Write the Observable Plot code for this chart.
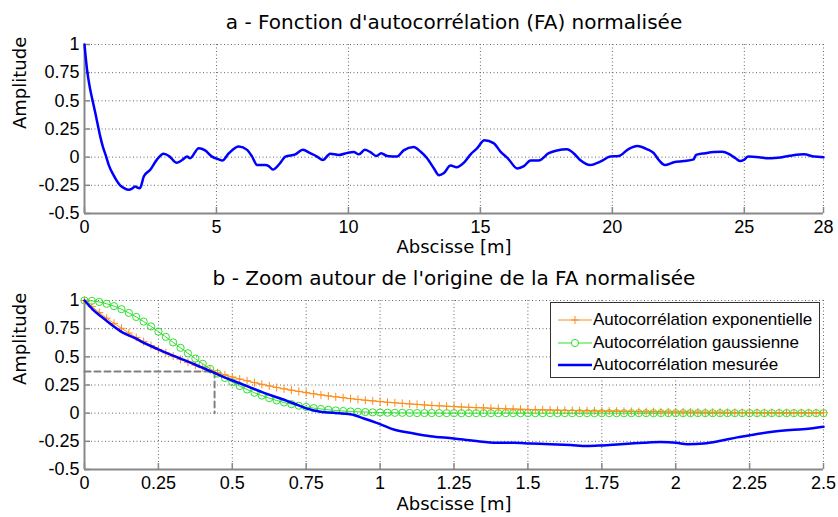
<!DOCTYPE html>
<html>
<head>
<meta charset="utf-8">
<script src="https://cdn.jsdelivr.net/npm/d3@7"></script>
<script src="https://cdn.jsdelivr.net/npm/@observablehq/plot@0.6"></script>
<style>
  body { margin: 0; background: #fff; }
  #wrap { position: relative; width: 838px; height: 517px; background: #fff; }
  #wrap svg { display: block; }
  #legend { position: absolute; left: 550px; top: 302px; width: 268px; height: 74px;
    border: 1px solid #333; background: #fff; font-family: "Liberation Sans", Arial, sans-serif; font-size: 17px; }
  .row { position: absolute; left: 0; height: 22px; line-height: 22px; white-space: nowrap; }
  .row svg { position: absolute; left: 5px; top: 0; }
  .row span { position: absolute; left: 42px; top: 0; }
</style>
</head>
<body>
<div id="wrap"></div>
<script>
// ---------- data ----------
const titleA = "a - Fonction d'autocorrélation (FA) normalisée";
const titleB = "b - Zoom autour de l'origine de la FA normalisée";
const yLabel = "Amplitude";
const xLabel = "Abscisse [m]";
const legendLabels = ["Autocorrélation exponentielle", "Autocorrélation gaussienne", "Autocorrélation mesurée"];

const xTicksA = [0, 5, 10, 15, 20, 25, 28];
const xTicksB = [0, 0.25, 0.5, 0.75, 1, 1.25, 1.5, 1.75, 2, 2.25, 2.5];
const yTicks = [-0.5, -0.25, 0, 0.25, 0.5, 0.75, 1];

// panel a: measured normalised autocorrelation 0..28 m
const fullX = [0,0.1,0.2,0.3,0.42,0.5,0.6,0.7,0.8,0.92,1.1,1.35,1.5,1.68,1.8,1.92,2.0,2.1,2.25,2.5,2.75,3.0,3.23,3.49,3.7,3.89,4.0,4.33,4.57,4.83,5.09,5.22,5.47,5.85,6.16,6.35,6.54,6.86,6.98,7.14,7.42,7.61,7.99,8.27,8.55,8.81,9.03,9.31,9.64,9.99,10.2,10.4,10.62,10.83,11.06,11.24,11.47,11.84,12.09,12.47,12.73,12.98,13.24,13.43,13.62,13.87,14.1,14.37,14.63,14.88,15.15,15.5,15.76,16.04,16.4,16.65,16.9,17.21,17.59,17.9,18.28,18.53,18.78,19.16,19.54,19.92,20.24,20.6,20.94,21.32,21.57,21.76,21.99,22.33,22.71,23.08,23.17,23.52,23.84,24.16,24.41,24.67,24.85,24.98,25.15,25.55,25.93,26.43,26.81,27.26,27.64,28];
const fullY = [1,0.77,0.62,0.51,0.38,0.29,0.18,0.09,0.02,-0.07,-0.16,-0.25,-0.275,-0.29,-0.28,-0.26,-0.27,-0.275,-0.17,-0.11,-0.02,0.03,0.005,-0.05,-0.025,0.005,-0.01,0.08,0.06,0.005,-0.02,-0.03,0.035,0.095,0.065,0.005,-0.07,-0.07,-0.08,-0.11,-0.05,0.005,0.025,0.065,0.035,0.005,-0.025,0.03,0.02,0.04,0.045,0.025,0.065,0.045,0.01,0.035,0.01,0.005,0.06,0.09,0.05,-0.01,-0.1,-0.16,-0.14,-0.075,-0.09,-0.05,0.025,0.08,0.15,0.125,0.05,-0.01,-0.1,-0.08,-0.03,-0.03,0.035,0.06,0.07,0.035,-0.025,-0.07,-0.04,0.005,0.01,0.07,0.1,0.07,0.035,-0.025,-0.07,-0.045,-0.035,-0.02,0.02,0.035,0.045,0.047,0.03,-0.01,-0.035,-0.025,0.005,0,-0.01,0,0.015,0.025,0.005,0];

// panel b: model curves sampled at the marker positions
const markX = [0,0.025,0.05,0.075,0.1,0.125,0.15,0.175,0.2,0.225,
  0.25,0.275,0.3,0.325,0.35,0.375,0.4,0.425,0.45,0.475,
  0.5,0.525,0.55,0.575,0.6,0.625,0.65,0.675,0.7,0.725,
  0.75,0.775,0.8,0.825,0.85,0.875,0.9,0.925,0.95,0.975,
  1,1.025,1.05,1.075,1.1,1.125,1.15,1.175,1.2,1.225,
  1.25,1.275,1.3,1.325,1.35,1.375,1.4,1.425,1.45,1.475,
  1.5,1.525,1.55,1.575,1.6,1.625,1.65,1.675,1.7,1.725,
  1.75,1.775,1.8,1.825,1.85,1.875,1.9,1.925,1.95,1.975,
  2,2.025,2.05,2.075,2.1,2.125,2.15,2.175,2.2,2.225,
  2.25,2.275,2.3,2.325,2.35,2.375,2.4,2.425,2.45,2.475,2.5];
const expY = [1,0.945,0.893,0.843,0.797,0.753,0.711,0.672,0.635,0.600,
  0.567,0.535,0.506,0.478,0.451,0.426,0.403,0.381,0.360,0.340,
  0.321,0.303,0.287,0.271,0.256,0.242,0.228,0.216,0.204,0.193,
  0.182,0.172,0.162,0.153,0.145,0.137,0.129,0.122,0.115,0.109,
  0.103,0.097,0.092,0.087,0.082,0.078,0.073,0.069,0.065,0.062,
  0.058,0.055,0.052,0.049,0.047,0.044,0.042,0.039,0.037,0.035,
  0.033,0.031,0.030,0.028,0.026,0.025,0.024,0.022,0.021,0.020,
  0.019,0.018,0.017,0.016,0.015,0.014,0.013,0.013,0.012,0.011,
  0.011,0.010,0.009,0.009,0.008,0.008,0.008,0.007,0.007,0.006,
  0.006,0.006,0.005,0.005,0.005,0.005,0.004,0.004,0.004,0.004,0.003];
const gaussY = [1,0.997,0.987,0.971,0.950,0.923,0.890,0.854,0.813,0.770,
  0.724,0.677,0.628,0.580,0.531,0.484,0.438,0.393,0.351,0.312,
  0.275,0.241,0.210,0.181,0.156,0.133,0.113,0.095,0.080,0.066,
  0.055,0.045,0.037,0.030,0.024,0.019,0.015,0.012,0.010,0.007,
  0.006,0.004,0.003,0.003,0.002,0.001,0.001,0.001,0.001,0,
  0,0,0,0,0,0,0,0,0,0,
  0,0,0,0,0,0,0,0,0,0,
  0,0,0,0,0,0,0,0,0,0,
  0,0,0,0,0,0,0,0,0,0,
  0,0,0,0,0,0,0,0,0,0,0];
// panel b: measured curve near origin
const measX = [0,0.032,0.065,0.099,0.133,0.167,0.212,0.249,0.291,0.325,0.359,0.392,0.432,0.471,0.5,0.55,0.607,0.663,0.708,0.753,0.798,0.843,0.9,0.945,1.0,1.046,1.114,1.17,1.249,1.317,1.396,1.452,1.509,1.576,1.644,1.7,1.751,1.813,1.892,1.949,2.002,2.039,2.095,2.152,2.208,2.253,2.321,2.388,2.456,2.5];
const measY = [1,0.91,0.84,0.77,0.71,0.67,0.61,0.567,0.52,0.484,0.449,0.41,0.366,0.32,0.29,0.24,0.18,0.13,0.086,0.04,0.012,0.003,-0.01,-0.047,-0.097,-0.145,-0.18,-0.204,-0.224,-0.245,-0.263,-0.263,-0.269,-0.275,-0.283,-0.292,-0.286,-0.275,-0.263,-0.257,-0.263,-0.275,-0.269,-0.245,-0.215,-0.195,-0.168,-0.15,-0.136,-0.121];
// correlation length guide (1/e)
const dashX = [0, 0.44, 0.44];
const dashY = [0.37, 0.37, 0];

// ---------- drawing ----------
const BLUE = "#0000ff", ORANGE = "#ff8c1a", GREEN = "#2ee02e", AXIS = "#888";
const TICKFONT = "Liberation Sans, Arial, sans-serif";
const LABELFONT = "DejaVu Sans, sans-serif";
const fmt = d => String(d);

const thinPlus = {
  draw(ctx, size) {
    const r = Math.sqrt(size / Math.PI);
    ctx.moveTo(-r, 0); ctx.lineTo(r, 0);
    ctx.moveTo(0, -r); ctx.lineTo(0, r);
  }
};

function frameMarks(xTicks, plotW, plotH, title, titleDy, xLabelDy) {
  return [
    Plot.gridX(xTicks, {stroke: "#666", strokeOpacity: 1, strokeDasharray: "1,2.5"}),
    Plot.gridY(yTicks, {stroke: "#666", strokeOpacity: 1, strokeDasharray: "1,2.5"}),
    Plot.tickX(xTicks, {x: d => d, insetTop: plotH - 6, stroke: AXIS, strokeWidth: 1.5}),
    Plot.tickY(yTicks, {y: d => d, insetRight: plotW - 6, stroke: AXIS, strokeWidth: 1.5}),
    Plot.ruleX([xTicks[0]], {stroke: AXIS, strokeWidth: 2}),
    Plot.ruleY([-0.5], {stroke: AXIS, strokeWidth: 2}),
    Plot.axisX(xTicks, {tickSize: 0, tickPadding: 7, tickFormat: fmt, label: null, fontSize: 18, fontFamily: TICKFONT, fill: "#000"}),
    Plot.axisY(yTicks, {tickSize: 0, tickPadding: 5, tickFormat: fmt, label: null, fontSize: 18, fontFamily: TICKFONT, fill: "#000"}),
    Plot.text([title], {text: d => d, frameAnchor: "top", lineAnchor: "middle", dy: titleDy, fontSize: 20, fontFamily: LABELFONT, fill: "#000"}),
    Plot.text([xLabel], {text: d => d, frameAnchor: "bottom", lineAnchor: "middle", dy: xLabelDy, fontSize: 18, fontFamily: LABELFONT, fill: "#000"}),
    Plot.text([yLabel], {text: d => d, frameAnchor: "left", lineAnchor: "middle", rotate: -90, dx: -64, fontSize: 18, fontFamily: LABELFONT, fill: "#000"})
  ];
}

const W = 838, ML = 84, MR = 15;
const plotW = W - ML - MR;

const chartA = Plot.plot({
  width: W, height: 260,
  marginLeft: ML, marginRight: MR, marginTop: 44, marginBottom: 47,
  x: {domain: [0, 28]},
  y: {domain: [-0.5, 1]},
  style: {background: "#fff", overflow: "visible", fontSize: "18px"},
  marks: [
    ...frameMarks(xTicksA, plotW, 169, titleA, -22, 34),
    Plot.line(fullX.map((x, i) => ({x, y: fullY[i]})), {x: "x", y: "y", stroke: BLUE, strokeWidth: 2.5, curve: "monotone-x"})
  ]
});

const chartB = Plot.plot({
  width: W, height: 257,
  marginLeft: ML, marginRight: MR, marginTop: 40, marginBottom: 48,
  x: {domain: [0, 2.5]},
  y: {domain: [-0.5, 1]},
  style: {background: "#fff", overflow: "visible", fontSize: "18px"},
  marks: [
    ...frameMarks(xTicksB, plotW, 169, titleB, -22, 35),
    Plot.line(dashX.map((x, i) => ({x, y: dashY[i]})), {x: "x", y: "y", stroke: "#808080", strokeWidth: 2, strokeDasharray: "6,4"}),
    Plot.line(markX.map((x, i) => ({x, y: gaussY[i]})), {x: "x", y: "y", stroke: GREEN, strokeWidth: 1}),
    Plot.dot(markX.map((x, i) => ({x, y: gaussY[i]})), {x: "x", y: "y", r: 3.6, stroke: GREEN, strokeWidth: 1, fill: "none"}),
    Plot.line(markX.map((x, i) => ({x, y: expY[i]})), {x: "x", y: "y", stroke: ORANGE, strokeWidth: 1}),
    Plot.dot(markX.map((x, i) => ({x, y: expY[i]})), {x: "x", y: "y", r: 4, symbol: thinPlus, stroke: ORANGE, strokeWidth: 1, fill: "none"}),
    Plot.line(measX.map((x, i) => ({x, y: measY[i]})), {x: "x", y: "y", stroke: BLUE, strokeWidth: 2.5, curve: "monotone-x"})
  ]
});

const wrap = document.getElementById("wrap");
wrap.appendChild(chartA);
wrap.appendChild(chartB);

// legend (inside panel b)
const legend = document.createElement("div");
legend.id = "legend";
const samples = [
  `<line x1="2" y1="11" x2="36" y2="11" stroke="${ORANGE}" stroke-width="1"/><line x1="19" y1="7" x2="19" y2="15" stroke="${ORANGE}"/><line x1="15" y1="11" x2="23" y2="11" stroke="${ORANGE}"/>`,
  `<line x1="2" y1="11" x2="36" y2="11" stroke="${GREEN}" stroke-width="1"/><circle cx="19" cy="11" r="3.6" fill="#fff" stroke="${GREEN}"/>`,
  `<line x1="2" y1="11" x2="36" y2="11" stroke="${BLUE}" stroke-width="2.5"/>`
];
const rowTops = [6, 29, 51];
legendLabels.forEach((lab, i) => {
  const row = document.createElement("div");
  row.className = "row";
  row.style.top = rowTops[i] + "px";
  row.innerHTML = `<svg width="38" height="22">${samples[i]}</svg><span>${lab}</span>`;
  legend.appendChild(row);
});
wrap.appendChild(legend);
</script>
</body>
</html>
